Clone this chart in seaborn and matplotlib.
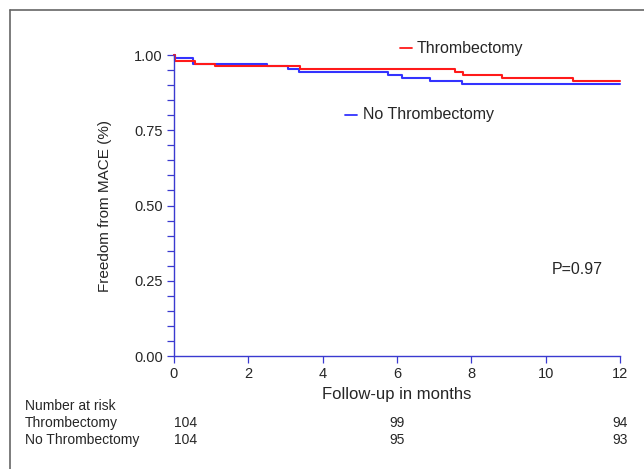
import pandas as pd
import matplotlib.pyplot as plt
import matplotlib.lines as mlines
from matplotlib.ticker import MultipleLocator
import seaborn as sns

# Kaplan-Meier step data
thromb_time = [0, 0.02, 0.56, 1.10, 3.39, 7.56, 7.78, 8.82, 10.74, 12]
thromb_surv = [1.0, 0.981, 0.971, 0.962, 0.952, 0.942, 0.933, 0.923, 0.913, 0.913]
nothromb_time = [0, 0.02, 0.52, 2.49, 3.08, 3.35, 5.77, 6.13, 6.89, 7.74, 12]
nothromb_surv = [1.0, 0.990, 0.971, 0.962, 0.952, 0.942, 0.933, 0.923, 0.913, 0.904, 0.904]

# number at risk table
risk_times = [0, 6, 12]
risk_thromb = [104, 99, 94]
risk_nothromb = [104, 95, 93]

df = pd.concat([
    pd.DataFrame({'time': nothromb_time, 'surv': nothromb_surv, 'group': 'No Thrombectomy'}),
    pd.DataFrame({'time': thromb_time, 'surv': thromb_surv, 'group': 'Thrombectomy'}),
])

sns.set_style('ticks')
plt.rcParams['font.family'] = ['Liberation Sans', 'DejaVu Sans']

red = '#ff1a1a'
blue = '#3333ff'
axis_col = '#3a3ad0'

fig = plt.figure(figsize=(6.44, 4.69), dpi=100)
ax = fig.add_axes([174 / 644, 1 - 356 / 469, 446 / 644, 301 / 469])

sns.lineplot(data=df, x='time', y='surv', hue='group', estimator=None,
             hue_order=['No Thrombectomy', 'Thrombectomy'],
             palette={'Thrombectomy': red, 'No Thrombectomy': blue},
             drawstyle='steps-post', linewidth=1.5, legend=False, ax=ax)
for ln in ax.lines:
    ln.set_clip_on(False)

ax.set_xlim(0, 12)
ax.set_ylim(0, 1.0)
ax.set_xticks(range(0, 13, 2))
ax.set_yticks([0, 0.25, 0.5, 0.75, 1.0])
ax.set_yticklabels(['0.00', '0.25', '0.50', '0.75', '1.00'])
ax.yaxis.set_minor_locator(MultipleLocator(0.05))
ax.tick_params(axis='both', which='major', labelsize=10.5, color=axis_col, width=0.9,
               length=5, direction='out', pad=3)
ax.tick_params(axis='y', which='minor', color=axis_col, width=0.9, length=5)
for s in ['top', 'right']:
    ax.spines[s].set_visible(False)
for s in ['left', 'bottom']:
    ax.spines[s].set_color(axis_col)
    ax.spines[s].set_linewidth(1.0)

ax.set_xlabel('Follow-up in months', fontsize=12, labelpad=4)
ax.set_ylabel('Freedom from MACE (%)', fontsize=11, labelpad=16)

# legend-like labels inside the plot
fig.add_artist(mlines.Line2D([400 / 644, 412 / 644], [1 - 48 / 469] * 2, color=red, lw=1.3))
fig.text(417 / 644, 1 - 48 / 469, 'Thrombectomy', fontsize=11.5, va='center', ha='left')
fig.add_artist(mlines.Line2D([345 / 644, 357 / 644], [1 - 115 / 469] * 2, color=blue, lw=1.3))
fig.text(363 / 644, 1 - 115 / 469, 'No Thrombectomy', fontsize=11.5, va='center', ha='left')
fig.text(552 / 644, 1 - 270 / 469, 'P=0.97', fontsize=11.5, va='center', ha='left')

# number at risk
fig.text(25 / 644, 1 - 406 / 469, 'Number at risk', fontsize=10, va='center')
fig.text(25 / 644, 1 - 423 / 469, 'Thrombectomy', fontsize=10, va='center')
fig.text(25 / 644, 1 - 440 / 469, 'No Thrombectomy', fontsize=10, va='center')
for t, a, b in zip(risk_times, risk_thromb, risk_nothromb):
    x_fig = fig.transFigure.inverted().transform(ax.transData.transform((t, 0)))[0]
    ha = 'left' if t == 0 else 'center'
    fig.text(x_fig, 1 - 423 / 469, str(a), fontsize=10, va='center', ha=ha)
    fig.text(x_fig, 1 - 440 / 469, str(b), fontsize=10, va='center', ha=ha)

# gray frame at top and left of the figure
fig.add_artist(mlines.Line2D([10 / 644, 10 / 644], [0, 1 - 10 / 469], color='#666666', lw=1.2))
fig.add_artist(mlines.Line2D([10 / 644, 1], [1 - 10 / 469] * 2, color='#666666', lw=1.2))

fig.savefig('out.png', dpi=100)
